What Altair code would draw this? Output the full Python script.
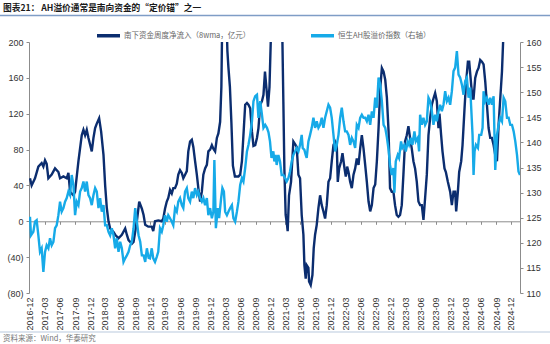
import altair as alt
import pandas as pd

# ---------------- data: (months since 2016-12, value) ----------------
dark_name = "南下资金周度净流入（8wma，亿元）"
light_name = "恒生AH股溢价指数（右轴）"

dark_pts = [
    (0, 48), (0.33, 40), (1.0, 48), (1.67, 61), (2.33, 65), (2.67, 61), (3.0, 68), (3.33, 64),
    (3.67, 48), (4.33, 52), (5.0, 59), (5.67, 55), (6.0, 48), (6.67, 50), (7.33, 48), (7.67, 54),
    (8.0, 33), (8.67, 29), (9.0, 33), (9.67, 67), (10.33, 96), (10.67, 102), (11.0, 96), (11.33, 102),
    (11.67, 93), (12.33, 78), (12.67, 93), (13.0, 104), (13.33, 109), (13.8, 115), (14.2, 100),
    (14.67, 74), (15.0, 40), (15.33, 15), (15.67, 0), (16.0, -8), (16.67, -12), (17.0, -15),
    (17.67, -19), (18.33, -15), (19.0, -8), (19.33, -15), (19.67, -21), (20.33, -25), (20.67, -23),
    (21.33, 0), (21.8, 22), (22.33, 14), (22.67, 7), (23.0, -4), (23.6, -6), (24.3, -6), (24.6, -11),
    (24.95, 0), (25.6, 1), (26.3, 0), (26.6, 3), (26.95, 14), (27.3, 22), (27.6, 26), (27.95, 35),
    (28.3, 31), (28.6, 37), (28.95, 37), (29.3, 42), (29.6, 52), (29.95, 57), (30.3, 54), (30.6, 48),
    (30.95, 52), (31.3, 56), (31.6, 78), (31.95, 89), (32.3, 91), (32.6, 83), (32.95, 67), (33.3, 52),
    (33.6, 37), (33.95, 22), (34.3, 33), (34.6, 52), (34.95, 59), (35.3, 63), (35.6, 78), (35.95, 80),
    (36.3, 85), (36.6, 81), (36.95, 78), (37.3, 93), (37.6, 98), (37.95, 111), (38.2, 150),
    (38.4, 240), (38.8, 260), (39.2, 230), (39.4, 190), (39.6, 172), (39.9, 150), (40.2, 110),
    (40.5, 62), (40.9, 50), (41.6, 50), (41.95, 52), (42.3, 67), (42.6, 96), (42.95, 130),
    (43.3, 132), (43.6, 130), (43.95, 126), (44.3, 100), (44.6, 84), (44.95, 85), (45.3, 93),
    (45.6, 104), (45.95, 130), (46.3, 134), (46.6, 141), (46.9, 167), (47.2, 148), (47.5, 128),
    (47.8, 150), (48.1, 210), (48.4, 300), (49.0, 330), (49.9, 320), (50.3, 230), (50.57, 133),
    (50.77, 59), (51.03, 7), (51.3, -4), (51.43, -11), (51.7, 29), (52.1, 44), (52.57, 89),
    (52.9, 86), (53.23, 83), (53.57, 52), (53.9, 48), (54.23, 7), (54.57, -15), (54.77, -49),
    (55.03, -64), (55.23, -49), (55.57, -52), (55.7, -67), (56.03, -71), (56.37, -60), (56.63, -30),
    (56.9, -15), (57.23, -4), (57.57, 15), (57.9, 29), (58.23, 18), (58.57, 11), (58.9, 3),
    (59.23, 18), (59.57, 44), (59.9, 48), (60.23, 67), (60.57, 85), (60.9, 89), (61.23, 85),
    (61.43, 44), (61.7, 59), (62.1, 67), (62.37, 76), (62.77, 59), (63.03, 50), (63.3, 61),
    (63.57, 55), (63.9, 44), (64.23, 37), (64.57, 52), (64.9, 59), (65.23, 70), (65.57, 63),
    (65.9, 81), (66.23, 96), (66.57, 81), (66.9, 63), (67.23, 44), (67.57, 22), (67.9, 11),
    (68.23, 18), (68.57, 37), (68.9, 41), (69.23, 67), (69.57, 104), (69.9, 148), (70.23, 171),
    (70.57, 167), (70.9, 158), (71.23, 138), (71.57, 100), (71.86, 37), (72.2, 33), (72.53, 33),
    (72.86, 18), (73.2, 7), (73.53, 5), (73.86, 7), (74.2, 18), (74.53, 52), (74.86, 89), (75.2, 96),
    (75.53, 106), (75.86, 93), (76.2, 81), (76.53, 67), (76.86, 59), (77.2, 44), (77.53, 22),
    (77.86, 18), (78.2, 18), (78.53, 1.5), (78.86, 26), (79.2, 52), (79.53, 96), (79.86, 115),
    (80.2, 130), (80.53, 137), (80.86, 143), (81.2, 134), (81.53, 104), (81.73, 120), (82.06, 96),
    (82.33, 78), (82.73, 59), (83.0, 55), (83.4, 44), (83.86, 33), (84.2, 18), (84.53, 33),
    (84.86, 33), (85.06, 11), (85.4, 33), (85.66, 55), (86.06, 67), (86.33, 85), (86.73, 126),
    (87.0, 152), (87.4, 178), (87.66, 178), (88.06, 152), (88.33, 137), (88.53, 137), (88.86, 160),
    (89.2, 167), (89.53, 171), (89.86, 180), (90.2, 178), (90.53, 175), (90.86, 156), (91.2, 130),
    (91.53, 104), (91.86, 93), (92.2, 93), (92.53, 85), (92.86, 74), (93.2, 67), (93.53, 108),
    (93.86, 137), (94.2, 167), (94.53, 215), (94.8, 270),
]

light_pts = [
    (0, 125.2), (0.2, 121.5), (0.67, 122.2), (1.0, 124.2), (1.33, 124.5), (1.67, 121.5), (2.0, 118.2),
    (2.33, 118.9), (2.67, 114.2), (3.0, 118.2), (3.33, 119.5), (3.67, 118.9), (4.0, 120.9),
    (4.33, 119.5), (4.67, 120.2), (5.0, 122.9), (5.33, 123.5), (5.67, 125.5), (6.0, 128.2),
    (6.33, 126.2), (6.67, 126.9), (7.0, 128.2), (7.33, 128.9), (7.67, 130.2), (8.0, 129.5),
    (8.33, 133.5), (8.67, 131.5), (9.0, 125.5), (9.33, 128.2), (9.67, 127.5), (10.0, 130.2),
    (10.33, 130.9), (10.67, 132.2), (11.0, 130.2), (11.33, 132.2), (11.67, 129.5), (12.0, 128.9),
    (12.33, 127.5), (12.67, 129.5), (13.0, 130.9), (13.33, 130.2), (13.67, 126.9), (14.0, 128.9),
    (14.33, 126.2), (14.67, 127.5), (15.0, 123.5), (15.33, 123.5), (15.67, 122.2), (16.0, 121.5),
    (16.33, 122.9), (16.67, 121.5), (17.0, 118.9), (17.33, 120.9), (17.67, 118.2), (18.0, 120.2),
    (18.33, 118.9), (18.67, 116.2), (19.0, 116.9), (19.33, 117.5), (19.67, 118.2), (20.0, 119.5),
    (20.33, 120.2), (20.67, 122.9), (21.0, 126.9), (21.33, 124.2), (21.67, 121.5), (22.0, 120.2),
    (22.33, 117.5), (22.67, 117.5), (23.0, 116.2), (23.33, 118.9), (23.67, 117.0), (23.95, 116.9),
    (24.3, 118.9), (24.6, 116.9), (24.95, 116.2), (25.3, 117.2), (25.6, 118.2), (25.95, 122.9),
    (26.3, 122.2), (26.6, 123.5), (26.95, 125.5), (27.3, 124.2), (27.6, 125.5), (27.95, 124.9),
    (28.3, 124.2), (28.6, 123.5), (28.95, 126.9), (29.3, 126.2), (29.6, 128.2), (29.95, 128.9),
    (30.3, 127.5), (30.6, 126.9), (30.95, 130.2), (31.3, 130.9), (31.6, 128.9), (31.95, 128.2),
    (32.3, 130.2), (32.6, 128.9), (32.95, 130.9), (33.3, 129.5), (33.6, 130.2), (33.95, 128.9),
    (34.3, 128.2), (34.6, 128.9), (34.95, 127.5), (35.3, 128.9), (35.6, 125.5), (35.95, 126.9),
    (36.3, 124.9), (36.6, 126.2), (36.8, 136.5), (37.1, 122.9), (37.5, 126.9), (37.75, 124.9),
    (38.15, 128.9), (38.4, 130.9), (38.7, 130.2), (38.95, 126.2), (39.3, 125.5), (39.6, 126.2),
    (39.95, 126.9), (40.3, 127.5), (40.6, 124.9), (40.95, 124.2), (41.3, 126.2), (41.6, 128.2),
    (41.95, 131.5), (42.3, 132.9), (42.6, 132.2), (42.95, 134.9), (43.3, 138.2), (43.6, 139.5),
    (43.95, 141.5), (44.3, 144.2), (44.6, 148.2), (44.95, 149.2), (45.3, 149.5), (45.6, 144.9),
    (45.95, 148.2), (46.3, 145.5), (46.6, 142.9), (46.95, 143.5), (47.3, 142.9), (47.6, 142.0),
    (47.9, 140.2), (48.2, 136.9), (48.57, 138.2), (48.77, 136.2), (49.03, 137.5), (49.23, 135.5),
    (49.57, 137.5), (49.9, 136.2), (50.23, 133.5), (50.57, 133.5), (50.9, 132.9), (51.23, 132.2),
    (51.57, 132.9), (51.9, 134.2), (52.23, 136.2), (52.57, 137.5), (52.9, 138.2), (53.23, 138.9),
    (53.57, 138.2), (53.9, 139.5), (54.23, 141.5), (54.43, 138.9), (54.77, 138.5), (55.03, 137.5),
    (55.23, 136.9), (55.57, 140.2), (55.9, 141.5), (56.23, 142.9), (56.57, 144.9), (56.9, 142.9),
    (57.23, 144.2), (57.57, 142.9), (57.9, 143.5), (58.23, 144.9), (58.57, 142.9), (58.9, 144.9),
    (59.23, 146.2), (59.57, 147.5), (59.9, 146.9), (60.23, 144.9), (60.57, 141.5), (60.9, 138.2),
    (61.23, 139.5), (61.57, 141.5), (61.9, 144.9), (62.23, 146.9), (62.57, 144.2), (62.9, 142.2),
    (63.23, 142.2), (63.57, 141.5), (63.9, 139.5), (64.23, 140.9), (64.57, 140.2), (64.9, 138.9),
    (65.23, 143.5), (65.57, 142.9), (65.9, 144.9), (66.23, 145.5), (66.57, 144.9), (66.9, 144.9),
    (67.23, 144.2), (67.57, 145.5), (67.9, 143.5), (68.23, 146.2), (68.57, 144.9), (68.9, 148.9),
    (69.23, 146.9), (69.57, 152.9), (69.9, 151.5), (70.23, 148.2), (70.57, 143.5), (70.9, 142.9),
    (71.23, 141.0), (71.57, 138.5), (71.86, 135.5), (72.2, 133.5), (72.53, 134.9), (72.73, 130.0),
    (73.0, 136.2), (73.4, 137.5), (73.66, 136.9), (74.06, 140.2), (74.33, 138.9), (74.73, 139.5),
    (75.0, 138.2), (75.4, 140.2), (75.66, 139.5), (76.06, 140.9), (76.33, 139.5), (76.73, 142.2),
    (77.0, 140.2), (77.4, 140.9), (77.66, 138.2), (77.86, 145.5), (78.2, 143.5), (78.53, 144.9),
    (78.86, 143.5), (79.2, 144.2), (79.53, 148.9), (79.86, 148.2), (80.2, 146.2), (80.53, 143.5),
    (80.86, 145.5), (81.2, 144.2), (81.53, 146.2), (81.86, 147.5), (82.2, 146.2), (82.53, 147.5),
    (82.86, 150.2), (83.2, 148.2), (83.53, 148.9), (83.86, 147.5), (84.2, 150.2), (84.53, 154.2),
    (84.86, 154.9), (85.2, 158.2), (85.53, 153.5), (85.86, 152.9), (86.2, 151.5), (86.53, 149.5),
    (86.86, 152.2), (87.2, 152.9), (87.53, 148.9), (87.86, 150.9), (88.06, 146.9), (88.33, 141.5),
    (88.53, 133.5), (88.73, 138.2), (89.0, 139.5), (89.4, 138.9), (89.66, 141.5), (90.06, 141.5),
    (90.33, 142.9), (90.53, 150.2), (90.86, 148.2), (91.2, 148.9), (91.53, 147.5), (91.86, 148.9),
    (92.2, 147.5), (92.53, 149.2), (92.86, 134.5), (93.2, 141.5), (93.53, 143.5), (93.86, 144.9),
    (94.2, 144.2), (94.53, 148.9), (94.86, 148.2), (95.2, 144.9), (95.53, 144.9), (95.86, 143.5),
    (96.2, 143.5), (96.53, 142.2), (96.86, 140.2), (97.2, 137.5), (97.5, 134.2), (97.8, 133.5),
]

x_ticks = ["2016-12", "2017-03", "2017-06", "2017-09", "2017-12", "2018-03", "2018-06", "2018-09",
           "2018-12", "2019-03", "2019-06", "2019-09", "2019-12", "2020-03", "2020-06", "2020-09",
           "2020-12", "2021-03", "2021-06", "2021-09", "2021-12", "2022-03", "2022-06", "2022-09",
           "2022-12", "2023-03", "2023-06", "2023-09", "2023-12", "2024-03", "2024-06", "2024-09",
           "2024-12"]
left_ticks = [-80, -40, 0, 40, 80, 120, 160, 200]
right_ticks = [110, 115, 120, 125, 130, 135, 140, 145, 150, 155, 160]

title_text = "图表21：  AH溢价通常是南向资金的“定价锚”之一"
source_text = "资料来源：Wind，华泰研究"

DARK = "#0b2d6f"
LIGHT = "#16aae8"

BASE = pd.Timestamp("2016-12-01")


def m2d(m):
    return (BASE + pd.Timedelta(days=m * 30.437)).strftime("%Y-%m-%dT%H:%M:%S")


dark = pd.DataFrame({"date": [m2d(m) for m, _ in dark_pts], "v": [v for _, v in dark_pts],
                     "series": dark_name})
light = pd.DataFrame({"date": [m2d(m) for m, _ in light_pts], "v": [v for _, v in light_pts],
                      "series": light_name})

tick_vals = [alt.DateTime(year=int(t[:4]), month=int(t[5:]), date=1) for t in x_ticks]
x_scale = alt.Scale(domain=[alt.DateTime(year=2016, month=11, date=25),
                            alt.DateTime(year=2025, month=1, date=24, hours=17)])

color_scale = alt.Scale(domain=[dark_name, light_name], range=[DARK, LIGHT])
legend = alt.Legend(orient="none", legendX=66, legendY=-20, direction="horizontal", title=None,
                    symbolType="stroke", symbolSize=530, symbolStrokeWidth=3.5,
                    labelFont="Noto Sans CJK SC", labelFontSize=7.5, labelColor="#666666",
                    columnPadding=52, labelLimit=400, labelOffset=2)

AX = dict(labelFont="Liberation Sans", labelFontSize=9, labelColor="#333333",
          domainColor="#8c8c8c", tickColor="#8c8c8c", grid=False, title=None)

dark_line = alt.Chart(dark).mark_line(strokeWidth=2.4, clip=True).encode(
    x=alt.X("date:T", scale=x_scale,
            axis=alt.Axis(values=tick_vals, format="%Y-%m", labelAngle=270, labelAlign="right",
                          labelBaseline="middle", domain=False, ticks=False, labelPadding=4,
                          labelOverlap=False, orient="bottom", **AX)),
    y=alt.Y("v:Q", scale=alt.Scale(domain=[-80, 200], nice=False, zero=False),
            axis=alt.Axis(values=left_ticks, orient="left", tickSize=3, labelPadding=3,
                          labelExpr="datum.value < 0 ? '(' + format(-datum.value, 'd') + ')' : format(datum.value, 'd')",
                          **AX)),
    color=alt.Color("series:N", scale=color_scale, legend=legend),
)

light_line = alt.Chart(light).mark_line(strokeWidth=2.4, clip=True).encode(
    x=alt.X("date:T", scale=x_scale,
            axis=alt.Axis(values=tick_vals, labels=False, domain=True, ticks=True, tickSize=3,
                          offset=-71.7, orient="bottom", **AX)),
    y=alt.Y("v:Q", scale=alt.Scale(domain=[110, 160], nice=False, zero=False),
            axis=alt.Axis(values=right_ticks, orient="right", tickSize=3, labelPadding=3, **AX)),
    color=alt.Color("series:N", scale=color_scale, legend=legend),
)

title_df = pd.DataFrame({"t": [title_text]})
title_mark = alt.Chart(title_df).mark_text(align="left", baseline="middle", font="Noto Sans CJK SC",
                                           fontSize=8.7, fontWeight="bold", color="#1a1a1a").encode(
    x=alt.value(-26), y=alt.value(-34), text="t:N")
title_rule = alt.Chart(title_df).mark_rule(color="#7f9dc6", strokeWidth=1.5).encode(
    x=alt.value(-29), x2=alt.value(521), y=alt.value(-26.5))

src_df = pd.DataFrame({"t": [source_text]})
src_rule = alt.Chart(src_df).mark_rule(color="#b9c9de", strokeWidth=1.2).encode(
    x=alt.value(-29), x2=alt.value(521), y=alt.value(290))
src_mark = alt.Chart(src_df).mark_text(align="left", baseline="middle", font="Noto Sans CJK SC",
                                       fontSize=7.5, color="#777777").encode(
    x=alt.value(-26), y=alt.value(297), text="t:N")

chart = alt.layer(dark_line, light_line, title_mark, title_rule, src_rule, src_mark).resolve_scale(
    y="independent").resolve_axis(x="independent", y="independent").properties(
    width=491, height=251,
    autosize=alt.AutoSizeParams(type="none"),
    padding={"left": 29, "top": 42, "right": 30, "bottom": 51},
).configure_view(stroke=None)

chart.save("out.html", embed_options={"renderer": "svg", "actions": False})
